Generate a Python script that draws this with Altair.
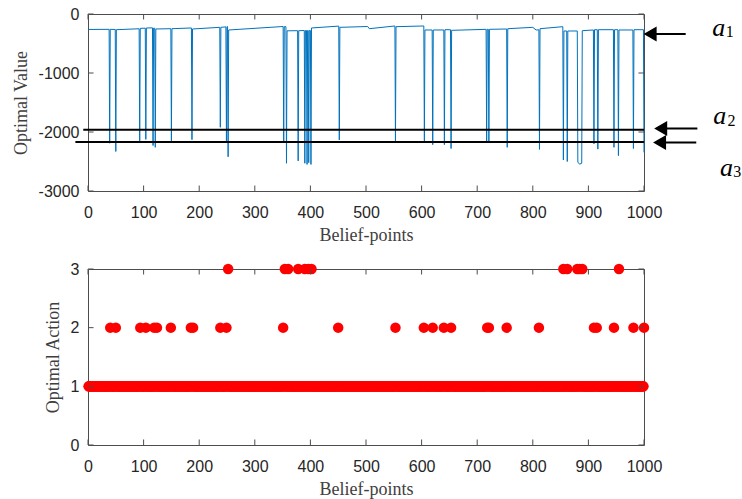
import altair as alt
import pandas as pd

# ---------------- Optimal value per belief point (polyline vertices) ----------------
value_x = [
    1, 38, 39, 40, 49, 50, 51, 92, 93, 94, 103, 104, 105, 116, 117, 118, 120, 121,
    122, 149, 150, 151, 186, 187, 188, 237, 238, 239, 248, 249, 250, 251, 252,
    253, 351, 352, 353, 356, 357, 358, 377, 378, 379, 389, 390, 391, 393, 394,
    395, 396, 397, 398, 400, 401, 402, 451, 452, 453, 503, 506, 552, 553,
    554, 604, 605, 606, 619, 620, 621, 640, 641, 642, 652, 653, 654, 716, 717,
    718, 720, 721, 722, 753, 754, 755, 800, 806, 811, 812, 813, 854, 855,
    856, 861, 862, 863, 880, 881, 884, 888, 889, 909, 910, 911, 916, 917,
    918, 945, 946, 947, 953, 954, 955, 980, 981, 982, 999, 1000,
]
value_y = [
    -262, -260, -2190, -260, -262, -2330, -266, -250, -2150, -243, -240, -2125, -237, -235, -2230, -240, -240, -2260,
    -254, -249, -2150, -249, -237, -2130, -254, -226, -1920, -226, -218, -2150, -215, -215, -2420,
    -271, -212, -2170, -215, -215, -2530, -285, -283, -2490, -283, -280, -2530, -280, -280, -2550,
    -280, -280, -2520, -280, -280, -2550, -237, -205, -2135, -226, -212, -249, -203, -2150,
    -215, -203, -2150, -271, -271, -2215, -271, -271, -2215, -266, -266, -2280, -277, -260, -2170,
    -260, -260, -2170, -260, -254, -2260, -249, -226, -271, -268, -2295, -249, -215, -2475,
    -288, -288, -2500, -288, -288, -2510, -2545, -2530, -283, -271, -2200, -266, -266, -2290,
    -266, -266, -2260, -266, -266, -2400, -271, -271, -2280, -266, -266, -2345,
]

# Reference levels a2 / a3 drawn across the value panel
level_y = [-1961, -2168]
level_x0 = [-8.5, -22.7]
level_x1 = [1000, 1000]

# Arrows pointing at a1, a2, a3 (y level, head center x, shaft end x)
arrow_y = [-340, -1942, -2180]
arrow_head_x = [1011, 1030, 1028]
arrow_end_x = [1075, 1096, 1094]

# Arrow labels: letter and subscript
label_letter = ["a", "a", "a"]
label_sub = ["1", "2", "3"]
letter_x = [1134.6, 1136.4, 1148.4]
letter_y = [-368, -1868, -2745]
sub_x = [1154.4, 1157.4, 1167.7]
sub_y = [-385, -1896, -2762]

# ---------------- Optimal action per belief point ----------------
belief_points = list(range(1, 1001))
action2_points = [40, 50, 94, 104, 119, 124, 149, 185, 189, 238, 249, 351, 450, 553,
                  604, 620, 640, 653, 718, 721, 753, 811, 910, 915, 946, 981, 1000]
action3_points = [252, 354, 360, 378, 390, 396, 402, 855, 862, 880, 884, 889, 955]

x_ticks = [0, 100, 200, 300, 400, 500, 600, 700, 800, 900, 1000]
value_ticks = [0, -1000, -2000, -3000]
action_ticks = [0, 1, 2, 3]

AXIS_COLOR = "#4d4d4d"
W = 556

# ---------------- Data frames ----------------
value_df = pd.DataFrame({"x": value_x, "v": value_y})
level_df = pd.DataFrame({"y": level_y, "x0": level_x0, "x1": level_x1})
arrow_df = pd.DataFrame({"y": arrow_y, "hx": arrow_head_x, "ex": arrow_end_x})
letter_df = pd.DataFrame({"t": label_letter, "x": letter_x, "y": letter_y})
sub_df = pd.DataFrame({"t": label_sub, "x": sub_x, "y": sub_y})

actions = []
for b in belief_points:
    if b in action3_points:
        actions.append(3)
    elif b in action2_points:
        actions.append(2)
    else:
        actions.append(1)
action_df = pd.DataFrame({"x": belief_points, "a": actions})

xscale = alt.Scale(domain=[0, 1000], nice=False, zero=False)
vscale = alt.Scale(domain=[-3000, 0], nice=False, zero=False)
ascale = alt.Scale(domain=[0, 3], nice=False, zero=False)

x_axis = alt.Axis(values=x_ticks, title="Belief-points", labelPadding=13, titlePadding=6,
                  labelFlush=False, labelOverlap=False, labelExpr="'' + datum.value")


def inner_ticks(yscale, y_lo, y_hi, y_tick_vals, x_len, y_len):
    """Inward-pointing tick marks on all four sides of a panel."""
    rows = []
    for t in x_ticks:
        rows.append({"x": t, "x2": t, "y": y_lo, "y2": y_lo + y_len})
        rows.append({"x": t, "x2": t, "y": y_hi, "y2": y_hi - y_len})
    for t in y_tick_vals:
        rows.append({"x": 0, "x2": x_len, "y": t, "y2": t})
        rows.append({"x": 1000, "x2": 1000 - x_len, "y": t, "y2": t})
    return alt.Chart(pd.DataFrame(rows)).mark_rule(color=AXIS_COLOR, strokeWidth=1).encode(
        x=alt.X("x:Q", scale=xscale), x2="x2:Q",
        y=alt.Y("y:Q", scale=yscale), y2="y2:Q",
    )


# ---------------- Top panel: optimal value ----------------
value_line = alt.Chart(value_df).mark_line(color="#0072BD", strokeWidth=1).encode(
    x=alt.X("x:Q", scale=xscale, axis=x_axis),
    y=alt.Y("v:Q", scale=vscale,
            axis=alt.Axis(values=value_ticks, title="Optimal Value", labelPadding=9,
                          titlePadding=8, labelFlush=False, labelOverlap=False,
                          labelExpr="'' + datum.value")),
)

levels = alt.Chart(level_df).mark_rule(color="black", strokeWidth=2).encode(
    x=alt.X("x0:Q", scale=xscale), x2="x1:Q", y=alt.Y("y:Q", scale=vscale)
)

shafts = alt.Chart(arrow_df).mark_rule(color="black", strokeWidth=2).encode(
    x=alt.X("hx:Q", scale=xscale), x2="ex:Q", y=alt.Y("y:Q", scale=vscale)
)

heads = alt.Chart(arrow_df).mark_point(shape="triangle-left", filled=True, size=225,
                                        color="black", opacity=1).encode(
    x=alt.X("hx:Q", scale=xscale), y=alt.Y("y:Q", scale=vscale)
)

letters = alt.Chart(letter_df).mark_text(font="Liberation Serif", fontStyle="italic",
                                         fontSize=26, align="center", baseline="alphabetic",
                                         color="black").encode(
    x=alt.X("x:Q", scale=xscale), y=alt.Y("y:Q", scale=vscale), text="t:N"
)

subs = alt.Chart(sub_df).mark_text(font="Liberation Serif", fontSize=16, align="center",
                                   baseline="alphabetic", color="black").encode(
    x=alt.X("x:Q", scale=xscale), y=alt.Y("y:Q", scale=vscale), text="t:N"
)

top = alt.layer(
    value_line, levels, inner_ticks(vscale, -3000, 0, value_ticks, 10, 93),
    shafts, heads, letters, subs,
).properties(width=W, height=177)

# ---------------- Bottom panel: optimal action ----------------
action_pts = alt.Chart(action_df).mark_circle(color="#FF0000", size=110, opacity=1).encode(
    x=alt.X("x:Q", scale=xscale, axis=x_axis),
    y=alt.Y("a:Q", scale=ascale,
            axis=alt.Axis(values=action_ticks, title="Optimal Action", labelPadding=9,
                          titlePadding=8, labelFlush=False, labelOverlap=False,
                          labelExpr="'' + datum.value")),
)

bottom = alt.layer(
    action_pts, inner_ticks(ascale, 0, 3, action_ticks, 10, 0.094),
).properties(width=W, height=176)

chart = alt.vconcat(top, bottom, spacing=15).properties(
    padding={"left": 11, "top": 5, "right": 0, "bottom": 0}
).configure_view(
    stroke=AXIS_COLOR, strokeWidth=1
).configure_axis(
    domain=False, ticks=False, tickSize=0, grid=False,
    labelFont="Liberation Sans", labelFontSize=16, labelColor="#262626",
    titleFont="Liberation Serif", titleFontSize=18, titleFontWeight="normal",
    titleColor="#404040",
)

chart.save("out.html", embed_options={"renderer": "svg", "actions": False})
